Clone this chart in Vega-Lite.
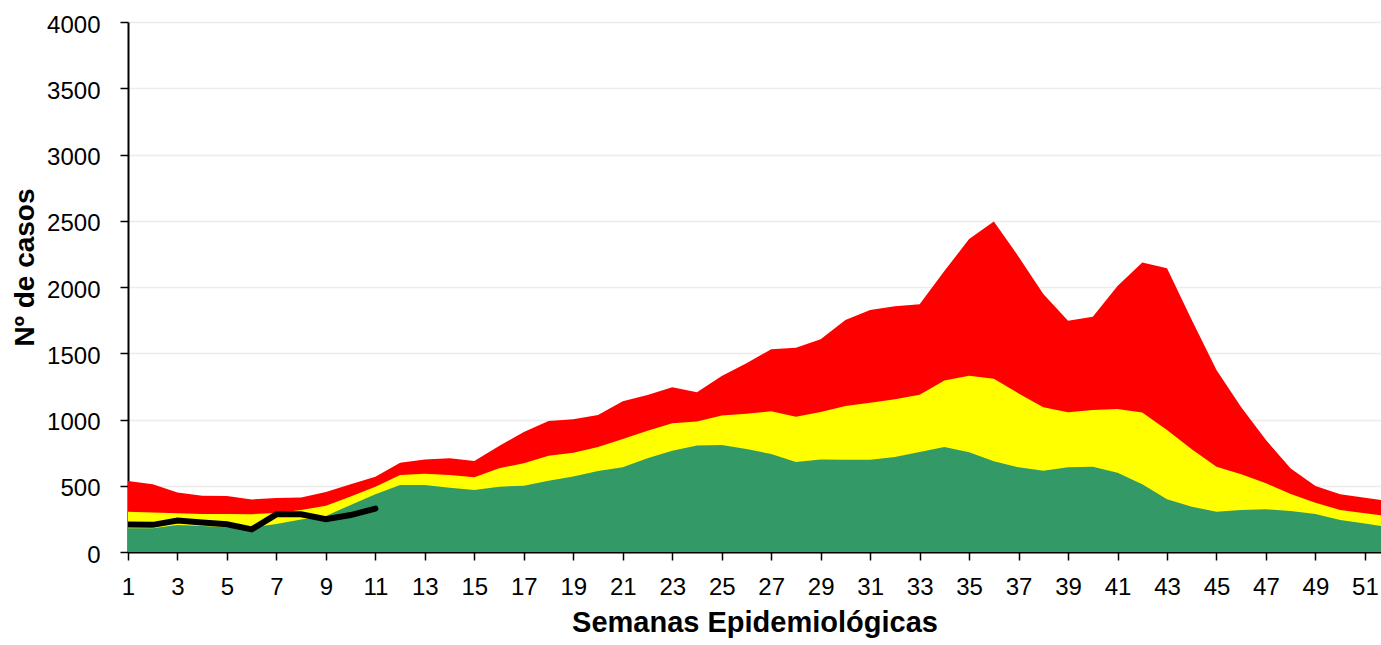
{
  "$schema": "https://vega.github.io/schema/vega-lite/v6.json",
  "width": 1253,
  "height": 530,
  "autosize": {"type": "none"},
  "padding": {"left": 128, "top": 22, "right": 0, "bottom": 93},
  "background": "white",
  "config": {"view": {"stroke": null}, "font": "Liberation Sans"},
  "datasets": {
    "umbrales": [
      {"semana": 1, "rojo": 536, "amarillo": 304, "verde": 179},
      {"semana": 2, "rojo": 511, "amarillo": 299, "verde": 179},
      {"semana": 3, "rojo": 450, "amarillo": 292, "verde": 204},
      {"semana": 4, "rojo": 425, "amarillo": 287, "verde": 196},
      {"semana": 5, "rojo": 423, "amarillo": 287, "verde": 186},
      {"semana": 6, "rojo": 397, "amarillo": 285, "verde": 185},
      {"semana": 7, "rojo": 408, "amarillo": 295, "verde": 212},
      {"semana": 8, "rojo": 412, "amarillo": 317, "verde": 246},
      {"semana": 9, "rojo": 453, "amarillo": 350, "verde": 272},
      {"semana": 10, "rojo": 511, "amarillo": 418, "verde": 355},
      {"semana": 11, "rojo": 568, "amarillo": 493, "verde": 435},
      {"semana": 12, "rojo": 674, "amarillo": 581, "verde": 506},
      {"semana": 13, "rojo": 699, "amarillo": 591, "verde": 506},
      {"semana": 14, "rojo": 707, "amarillo": 581, "verde": 485},
      {"semana": 15, "rojo": 687, "amarillo": 564, "verde": 468},
      {"semana": 16, "rojo": 800, "amarillo": 632, "verde": 493},
      {"semana": 17, "rojo": 905, "amarillo": 669, "verde": 500},
      {"semana": 18, "rojo": 989, "amarillo": 727, "verde": 538},
      {"semana": 19, "rojo": 1001, "amarillo": 750, "verde": 569},
      {"semana": 20, "rojo": 1034, "amarillo": 792, "verde": 611},
      {"semana": 21, "rojo": 1137, "amarillo": 853, "verde": 639},
      {"semana": 22, "rojo": 1185, "amarillo": 916, "verde": 707},
      {"semana": 23, "rojo": 1243, "amarillo": 971, "verde": 765},
      {"semana": 24, "rojo": 1205, "amarillo": 984, "verde": 803},
      {"semana": 25, "rojo": 1328, "amarillo": 1031, "verde": 808},
      {"semana": 26, "rojo": 1424, "amarillo": 1044, "verde": 777},
      {"semana": 27, "rojo": 1530, "amarillo": 1062, "verde": 740},
      {"semana": 28, "rojo": 1542, "amarillo": 1021, "verde": 679},
      {"semana": 29, "rojo": 1605, "amarillo": 1057, "verde": 699},
      {"semana": 30, "rojo": 1751, "amarillo": 1102, "verde": 697},
      {"semana": 31, "rojo": 1826, "amarillo": 1127, "verde": 697},
      {"semana": 32, "rojo": 1854, "amarillo": 1152, "verde": 717},
      {"semana": 33, "rojo": 1869, "amarillo": 1187, "verde": 755},
      {"semana": 34, "rojo": 2120, "amarillo": 1295, "verde": 792},
      {"semana": 35, "rojo": 2362, "amarillo": 1331, "verde": 752},
      {"semana": 36, "rojo": 2495, "amarillo": 1308, "verde": 684},
      {"semana": 37, "rojo": 2229, "amarillo": 1197, "verde": 639},
      {"semana": 38, "rojo": 1947, "amarillo": 1092, "verde": 614},
      {"semana": 39, "rojo": 1746, "amarillo": 1054, "verde": 639},
      {"semana": 40, "rojo": 1776, "amarillo": 1072, "verde": 644},
      {"semana": 41, "rojo": 2008, "amarillo": 1079, "verde": 599},
      {"semana": 42, "rojo": 2184, "amarillo": 1052, "verde": 511},
      {"semana": 43, "rojo": 2141, "amarillo": 921, "verde": 398},
      {"semana": 44, "rojo": 1751, "amarillo": 775, "verde": 342},
      {"semana": 45, "rojo": 1374, "amarillo": 644, "verde": 304},
      {"semana": 46, "rojo": 1092, "amarillo": 586, "verde": 317},
      {"semana": 47, "rojo": 845, "amarillo": 518, "verde": 322},
      {"semana": 48, "rojo": 631, "amarillo": 438, "verde": 309},
      {"semana": 49, "rojo": 498, "amarillo": 372, "verde": 287},
      {"semana": 50, "rojo": 435, "amarillo": 317, "verde": 241},
      {"semana": 51, "rojo": 410, "amarillo": 292, "verde": 216},
      {"semana": 52, "rojo": 382, "amarillo": 269, "verde": 185}
    ],
    "actual": [
      {"semana": 1, "casos": 207},
      {"semana": 2, "casos": 205},
      {"semana": 3, "casos": 238},
      {"semana": 4, "casos": 222},
      {"semana": 5, "casos": 209},
      {"semana": 6, "casos": 171},
      {"semana": 7, "casos": 284},
      {"semana": 8, "casos": 284},
      {"semana": 9, "casos": 247},
      {"semana": 10, "casos": 279},
      {"semana": 11, "casos": 327}
    ]
  },
  "layer": [
    {
      "data": {"name": "umbrales"},
      "mark": {"type": "area", "color": "#FF0000", "clip": true},
      "encoding": {
        "x": {
          "field": "semana", "type": "quantitative",
          "scale": {"domain": [1, 51.65], "nice": false, "zero": false},
          "axis": {
            "values": [1,2,3,4,5,6,7,8,9,10,11,12,13,14,15,16,17,18,19,20,21,22,23,24,25,26,27,28,29,30,31,32,33,34,35,36,37,38,39,40,41,42,43,44,45,46,47,48,49,50,51],
            "labelExpr": "datum.value % 2 == 1 ? datum.label : ''",
            "format": "d",
            "title": "Semanas Epidemiológicas",
            "grid": false,
            "domainColor": "#000000", "domainWidth": 2,
            "tickColor": "#000000", "tickWidth": 1.5, "tickSize": 8,
            "labelFont": "Liberation Sans", "labelFontSize": 24, "labelColor": "#000000",
            "labelPadding": 15, "labelOverlap": false, "labelFlush": false,
            "titleFont": "Liberation Sans", "titleFontSize": 29, "titleFontWeight": "bold", "titleColor": "#000000",
            "titleBaseline": "alphabetic", "titleY": 79
          }
        },
        "y": {
          "field": "rojo", "type": "quantitative", "stack": null,
          "scale": {"domain": [0, 4000], "nice": false},
          "axis": {
            "values": [0, 500, 1000, 1500, 2000, 2500, 3000, 3500, 4000],
            "format": "d",
            "title": "Nº de casos",
            "grid": true, "gridColor": "#ececec", "gridWidth": 1.5,
            "domainColor": "#000000", "domainWidth": 2,
            "tickColor": "#000000", "tickWidth": 1.5, "tickSize": 8,
            "labelFont": "Liberation Sans", "labelFontSize": 24, "labelColor": "#000000",
            "labelPadding": 20, "labelOffset": 3,
            "titleFont": "Liberation Sans", "titleFontSize": 28, "titleFontWeight": "bold", "titleColor": "#000000",
            "titleBaseline": "alphabetic", "titleX": -95, "titleY": 245, "titleAngle": -90
          }
        }
      }
    },
    {
      "data": {"name": "umbrales"},
      "mark": {"type": "area", "color": "#FFFF00", "clip": true},
      "encoding": {
        "x": {"field": "semana", "type": "quantitative"},
        "y": {"field": "amarillo", "type": "quantitative", "stack": null}
      }
    },
    {
      "data": {"name": "umbrales"},
      "mark": {"type": "area", "color": "#339966", "clip": true},
      "encoding": {
        "x": {"field": "semana", "type": "quantitative"},
        "y": {"field": "verde", "type": "quantitative", "stack": null}
      }
    },
    {
      "data": {"name": "actual"},
      "mark": {"type": "line", "color": "#000000", "strokeWidth": 6, "strokeCap": "round", "strokeJoin": "miter", "clip": true},
      "encoding": {
        "x": {"field": "semana", "type": "quantitative"},
        "y": {"field": "casos", "type": "quantitative"}
      }
    }
  ]
}
